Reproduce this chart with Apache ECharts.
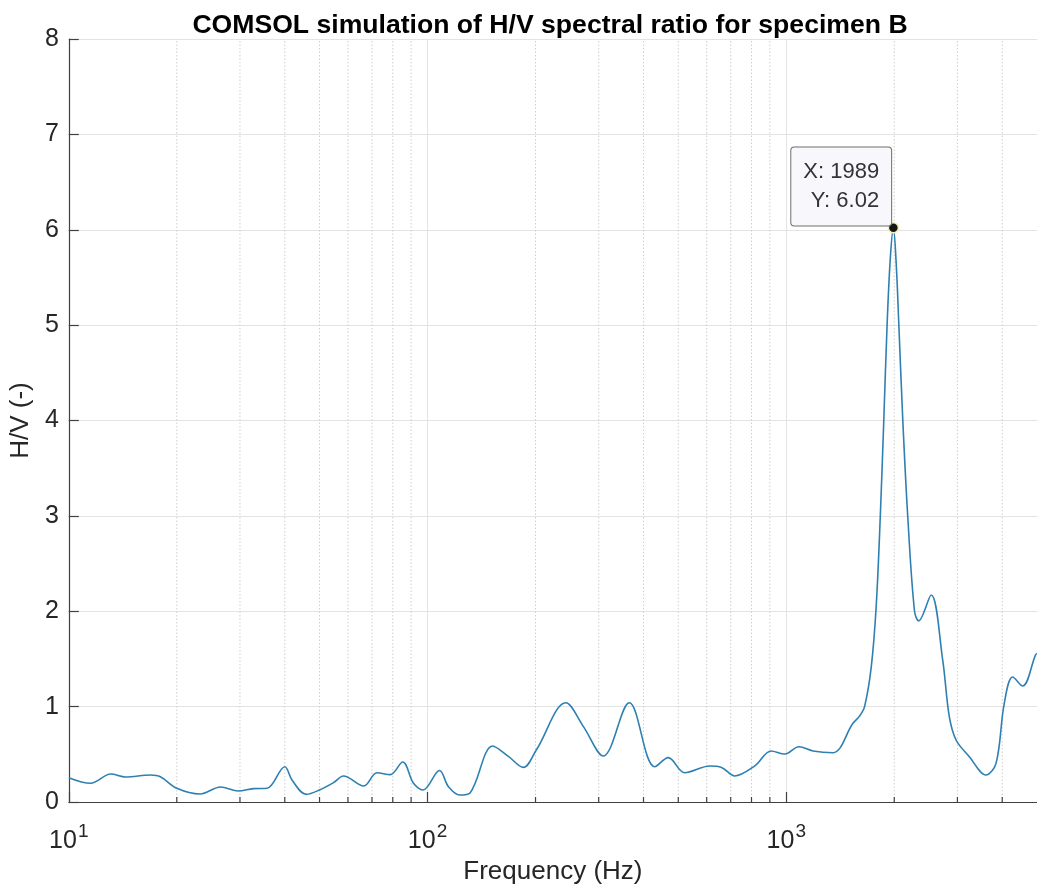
<!DOCTYPE html>
<html>
<head>
<meta charset="utf-8">
<title>H/V spectral ratio</title>
<script src="https://cdn.jsdelivr.net/npm/echarts@6/dist/echarts.min.js"></script>
<style>
  html, body { margin: 0; padding: 0; background: #ffffff; }
  #chart { width: 1037px; height: 894px; }
</style>
</head>
<body>
<div id="chart"></div>
<script>
// Frequency samples (Hz) and H/V spectral ratio values
const freq = [
  10, 11.5, 13.1, 14.4, 16.9, 18.0, 20, 23.2, 26.5, 29.7,
  32.7, 35.7, 40.0, 41.9, 45.9, 50, 54.7, 58.3, 66.4, 72.3,
  78.7, 85.3, 91.4, 97.1, 108, 114.4, 123, 131.5, 152, 168,
  185, 201, 243, 272, 309, 365, 430, 469, 521, 612,
  660, 718, 816, 908, 990, 1085, 1187, 1350, 1534, 1600,
  1653, 1726, 1781, 1828, 1870, 1911, 1950, 1989, 2025, 2059,
  2113, 2182, 2278, 2339, 2535, 2729, 2848, 2974, 3238, 3603,
  3844, 4053, 4277, 4560, 4950, 5000
];
const hv = [
  0.255, 0.196, 0.293, 0.262, 0.283, 0.265, 0.144, 0.084, 0.157, 0.115,
  0.140, 0.144, 0.370, 0.230, 0.080, 0.126, 0.203, 0.273, 0.168, 0.307,
  0.287, 0.420, 0.196, 0.126, 0.330, 0.160, 0.073, 0.098, 0.587, 0.478,
  0.363, 0.545, 1.040, 0.790, 0.482, 1.040, 0.370, 0.465, 0.307, 0.377,
  0.363, 0.273, 0.377, 0.535, 0.503, 0.580, 0.535, 0.517, 0.825, 0.900,
  1.000, 1.420, 2.050, 2.980, 4.000, 5.020, 5.700, 6.020, 5.650, 5.020,
  4.000, 2.980, 2.000, 1.900, 2.170, 1.490, 0.894, 0.650, 0.475, 0.283,
  0.405, 1.035, 1.310, 1.216, 1.540, 1.560
];

// Highlighted data tip
const peakFreq = 1989;
const peakValue = 6.02;

// Axis ranges and minor (log) grid positions
const xMin = 10, xMax = 5000;
const yMin = 0, yMax = 8, yStep = 1;
const minorFreqs = [20, 30, 40, 50, 60, 70, 80, 90,
                    200, 300, 400, 500, 600, 700, 800, 900,
                    2000, 3000, 4000];

const lineData = freq.map((f, i) => [f, hv[i]]);
const minorData = minorFreqs.map(f => [f, 0]);

const FONT = '"Liberation Sans", Arial, Helvetica, sans-serif';
const INK = '#262626';

const chart = echarts.init(document.getElementById('chart'), null, { renderer: 'canvas' });

chart.setOption({
  backgroundColor: '#ffffff',
  animation: false,
  title: {
    text: 'COMSOL simulation of H/V spectral ratio for specimen B',
    left: 545, textAlign: 'center', top: 7,
    textStyle: { fontFamily: FONT, fontSize: 26.6, fontWeight: 'bold', color: '#000000' }
  },
  grid: { left: 68, right: 0, top: 39, bottom: 92, containLabel: false },
  xAxis: {
    type: 'log', logBase: 10, min: xMin, max: xMax,
    name: 'Frequency (Hz)', nameLocation: 'middle', nameGap: 55,
    nameTextStyle: { fontFamily: FONT, fontSize: 26, color: INK },
    axisLine: { show: true, lineStyle: { color: '#404040', width: 1.2 } },
    axisTick: { show: true, inside: true, length: 10, lineStyle: { color: '#404040', width: 1.2 } },
    axisLabel: {
      margin: 20, color: INK, fontFamily: FONT,
      showMaxLabel: false,
      formatter: function (v) {
        const e = Math.log10(v);
        if (Math.abs(e - Math.round(e)) > 1e-6) return '';
        return '{b|10}{s|' + Math.round(e) + '}';
      },
      rich: {
        b: { fontFamily: FONT, fontSize: 25, color: INK },
        s: { fontFamily: FONT, fontSize: 19, color: INK, padding: [0, 0, 20, 1] }
      }
    },
    splitLine: { show: true, lineStyle: { color: '#e3e3e3', width: 1 } },
    minorTick: { show: false },
    minorSplitLine: { show: false }
  },
  yAxis: {
    type: 'value', min: yMin, max: yMax, interval: yStep,
    name: 'H/V (-)', nameLocation: 'middle', nameGap: 32, nameRotate: 90,
    nameTextStyle: { fontFamily: FONT, fontSize: 26, color: INK },
    axisLine: { show: true, lineStyle: { color: '#404040', width: 1.2 } },
    axisTick: { show: true, inside: true, length: 10, lineStyle: { color: '#404040', width: 1.2 } },
    axisLabel: { margin: 10, fontFamily: FONT, fontSize: 25, color: INK },
    splitLine: { show: true, lineStyle: { color: '#e3e3e3', width: 1 } }
  },
  series: [
    {
      // dotted minor grid lines and short inward minor ticks on the log axis
      type: 'custom',
      silent: true,
      z: 1,
      data: minorData,
      renderItem: function (params, api) {
        const f = api.value(0);
        const p0 = api.coord([f, yMin]);
        const p1 = api.coord([f, yMax]);
        return {
          type: 'group',
          children: [
            {
              type: 'line',
              shape: { x1: p0[0], y1: p0[1], x2: p1[0], y2: p1[1] },
              style: { stroke: '#cfcfcf', lineWidth: 1, lineDash: [1.5, 2] }
            },
            {
              type: 'line',
              shape: { x1: p0[0], y1: p0[1], x2: p0[0], y2: p0[1] - 5 },
              style: { stroke: '#404040', lineWidth: 1.2 }
            }
          ]
        };
      }
    },
    {
      type: 'line',
      data: lineData,
      z: 3,
      showSymbol: false,
      smooth: 0.35,
      lineStyle: { color: '#2e80b2', width: 1.6 },
      markPoint: {
        silent: true,
        symbol: 'circle',
        symbolSize: 10,
        itemStyle: { color: '#151515', borderColor: '#f3efb8', borderWidth: 1.5 },
        data: [{ coord: [peakFreq, peakValue] }],
        label: {
          show: true,
          position: [3.5, 3.5],
          align: 'right',
          verticalAlign: 'bottom',
          formatter: 'X: ' + peakFreq + '\nY: ' + peakValue.toFixed(2),
          fontFamily: FONT,
          fontSize: 22,
          lineHeight: 29,
          color: '#333333',
          backgroundColor: '#f8f8fc',
          borderColor: '#6e6e6e',
          borderWidth: 1,
          borderRadius: 3,
          padding: [10, 12, 10, 12]
        }
      }
    }
  ]
});
</script>
</body>
</html>
